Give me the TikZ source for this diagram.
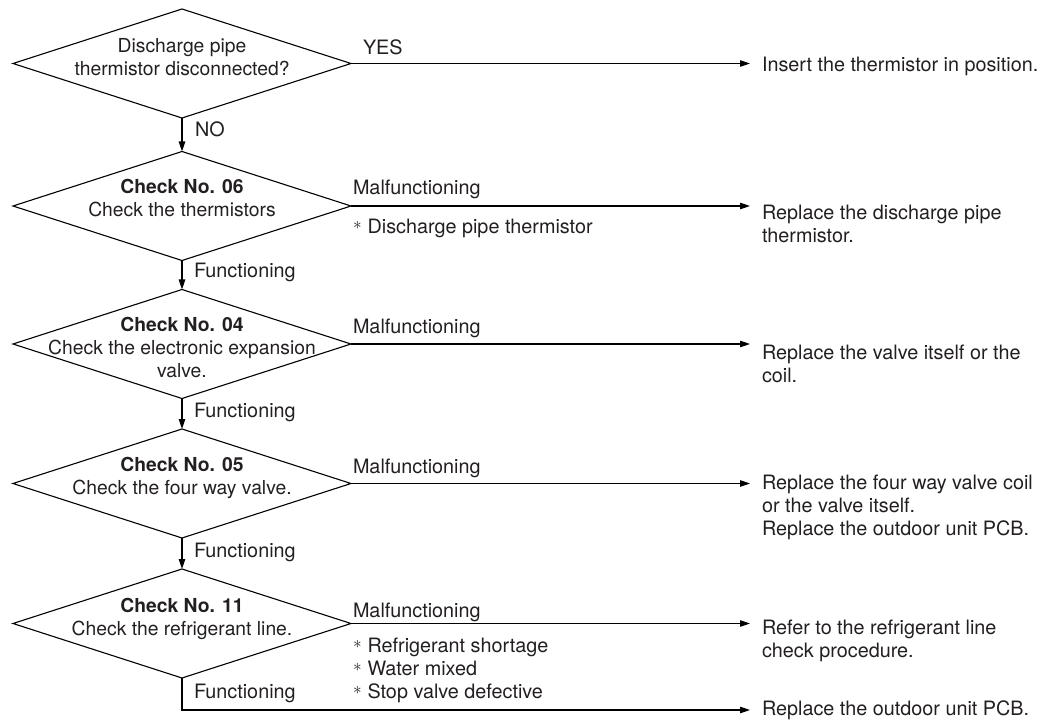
\documentclass[tikz,border=0pt]{standalone}
\usepackage{fontspec}
\setmainfont{TeX Gyre Heros}
\usetikzlibrary{shapes.geometric,arrows.meta}
\definecolor{ink}{HTML}{231F20}
\newcommand\mainsz{\fontsize{19.8}{23}\selectfont}
\newcommand\boxsz{\fontsize{19.3}{23}\selectfont}
\newcommand\stbullet{\raisebox{0.2em}{\fontsize{17}{17}\selectfont$\ast$}\hspace{0.3em}}

\begin{document}
\begin{tikzpicture}[x=1pt,y=-1pt,
  decision/.style={draw, shape=diamond, minimum width=338pt, minimum height=109pt,
    inner sep=0pt, outer sep=0pt, line width=1.1pt},
  txt/.style={font=\mainsz, text=ink, inner sep=0pt, outer sep=0pt},
  ctxt/.style={txt, font=\boxsz, align=center, anchor=north},
  ltxt/.style={txt, align=left, anchor=north west},
  lab/.style={txt, anchor=base west},
  flow/.style={draw, line width=1.1pt, -{Triangle[length=10pt,width=6.5pt]}},
  toaction/.style={flow, shorten >=12pt},
]
\useasboundingbox (0,0) rectangle (1050,722);

% decision diamonds
\node[decision] (d1) at (182,63.5) {};
\node[decision] (d2) at (182,206) {};
\node[decision] (d3) at (182,344) {};
\node[decision] (d4) at (182,483.5) {};
\node[decision] (d5) at (182,623.5) {};

% diamond texts
\node[ctxt] (q1) at (182,38) {Discharge pipe\\thermistor disconnected?};
\node[ctxt] (q2) at (182,179) {\textbf{Check No. 06}\\Check the thermistors};
\node[ctxt] (q3) at (182,317) {\textbf{Check No. 04}\\Check the electronic expansion\\valve.};
\node[ctxt] (q4) at (182,457) {\textbf{Check No. 05}\\Check the four way valve.};
\node[ctxt] (q5) at (182,598) {\textbf{Check No. 11}\\Check the refrigerant line.};

% actions
\node[ltxt] (a1) at (762,57) {Insert the thermistor in position.};
\node[ltxt] (a2) at (762,205) {Replace the discharge pipe\\thermistor.};
\node[ltxt] (a3) at (762,345) {Replace the valve itself or the\\coil.};
\node[ltxt] (a4) at (762,475) {Replace the four way valve coil\\or the valve itself.\\Replace the outdoor unit PCB.};
\node[ltxt] (a5) at (762,620) {Refer to the refrigerant line\\check procedure.};
\node[txt, anchor=west] (a6) at (762,710) {Replace the outdoor unit PCB.};

% connectors
\draw[toaction] (d1.east) -- (d1.east -| a1.west);
\draw[toaction] (d2.east) -- (d2.east -| a2.west);
\draw[toaction] (d3.east) -- (d3.east -| a3.west);
\draw[toaction] (d4.east) -- (d4.east -| a4.west);
\draw[toaction] (d5.east) -- (d5.east -| a5.west);
\draw[flow] (d1.south) -- (d2.north);
\draw[flow] (d2.south) -- (d3.north);
\draw[flow] (d3.south) -- (d4.north);
\draw[flow] (d4.south) -- (d5.north);
\draw[toaction] (d5.south) |- (a6.west);

% branch labels
\node[lab] (yes) at (363,55) {YES};
\node[lab] (no) at (195,137) {NO};
\node[lab] (m2) at (353,195) {Malfunctioning};
\node[ltxt] (n2) at (353,219) {\stbullet Discharge pipe thermistor};
\node[lab] (f2) at (194,277) {Functioning};
\node[lab] (m3) at (353,333) {Malfunctioning};
\node[lab] (f3) at (194,417) {Functioning};
\node[lab] (m4) at (353,473) {Malfunctioning};
\node[lab] (f4) at (194,557) {Functioning};
\node[lab] (m5) at (353,617) {Malfunctioning};
\node[ltxt] (n5) at (353,638) {\stbullet Refrigerant shortage\\\stbullet Water mixed\\\stbullet Stop valve defective};
\node[lab] (f5) at (194,698) {Functioning};
\end{tikzpicture}
\end{document}
